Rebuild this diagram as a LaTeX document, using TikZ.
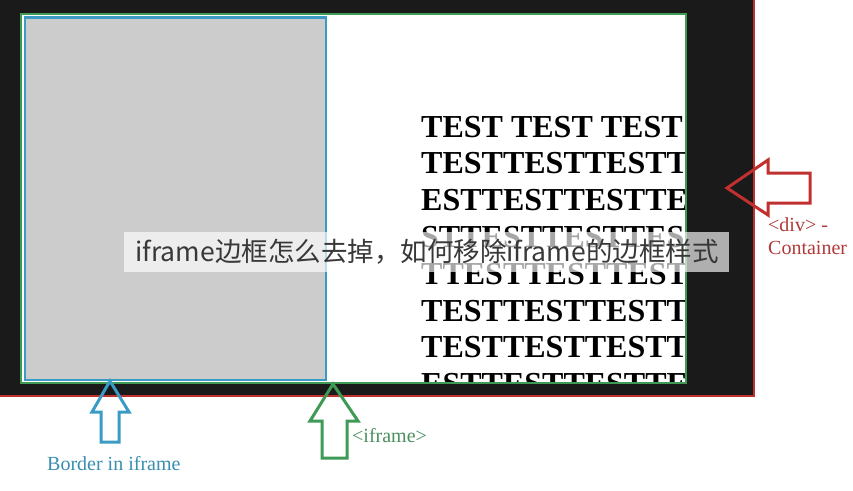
\documentclass[tikz,border=0pt]{standalone}
\usepackage{fontspec}
\setmainfont{Liberation Serif}
\newfontfamily\cjk{Noto Sans CJK SC}
\definecolor{divbg}{HTML}{1A1A1A}
\definecolor{divred}{HTML}{C0302F}
\definecolor{divtxt}{HTML}{B03A3A}
\definecolor{ifgreen}{HTML}{3E9A55}
\definecolor{ifblue}{HTML}{3A9CC4}
\definecolor{bluetxt}{HTML}{3A8FB0}
\definecolor{greentxt}{HTML}{4A9060}
\definecolor{innergray}{HTML}{CCCCCC}
\tikzset{
  testline/.style={anchor=base west, inner sep=0pt, font=\bfseries\fontsize{32}{32}\selectfont},
  label/.style={anchor=base west, inner sep=0pt, font=\fontsize{20}{22}\selectfont},
  arrowshape/.style={line width=3pt, line join=miter}
}
\begin{document}
\begin{tikzpicture}[x=1pt,y=-1pt]
\useasboundingbox (0,0) rectangle (853,490);
\fill[white] (0,0) rectangle (853,490);
% div container
\fill[divbg] (0,0) rectangle (754,395);
\draw[divred, line width=2pt] (754,0) -- (754,395.5) -- (0,395.5);
% iframe
\fill[white] (21,14) rectangle (686,383);
\fill[innergray] (25,17.5) rectangle (326,380);
\begin{scope}
\clip (21,14) rectangle (686,383);
\node[testline] (t1) at (421,137) {TEST TEST TEST};
\node[testline] (t2) at (421,173.8) {TESTTESTTESTT};
\node[testline] (t3) at (421,210.6) {ESTTESTTESTTE};
\node[testline] (t4) at (421,247.4) {STTESTTESTTES};
\node[testline] (t5) at (421,284.2) {TTESTTESTTEST};
\node[testline] (t6) at (421,321) {TESTTESTTESTT};
\node[testline] (t7) at (421,357.8) {TESTTESTTESTT};
\node[testline] (t8) at (421,394.6) {ESTTESTTESTTE};
\end{scope}
\draw[ifblue, line width=2.5pt] (25,17.5) rectangle (326,380);
\draw[ifgreen, line width=2.2pt] (21,14) rectangle (686,383);
% arrows
\draw[ifblue, arrowshape] (110,381) -- (129,412) -- (119,412) -- (119,442) -- (101,442) -- (101,412) -- (92,412) -- cycle;
\draw[ifgreen, arrowshape] (333,384) -- (358,421) -- (347,421) -- (347,458) -- (322,458) -- (322,421) -- (310,421) -- cycle;
\draw[divred, arrowshape] (727,188) -- (768,160) -- (768,173) -- (810,173) -- (810,203) -- (768,203) -- (768,215) -- cycle;
% labels
\node[label, text=bluetxt] (lb) at (47,470) {Border in iframe};
\node[label, text=greentxt] (lg) at (352,442) {<iframe>};
\node[label, text=divtxt] (ld1) at (768,231) {<div> -};
\node[label, text=divtxt] (ld2) at (768,254) {Container};
% overlay banner
\fill[white, opacity=0.65] (124,232) rectangle (729,272);
\node[inner sep=0pt, anchor=center, text=black!78, font=\cjk\fontsize{26.5}{26.5}\selectfont] (banner) at (427,252) {iframe边框怎么去掉，如何移除iframe的边框样式};
\end{tikzpicture}
\end{document}
